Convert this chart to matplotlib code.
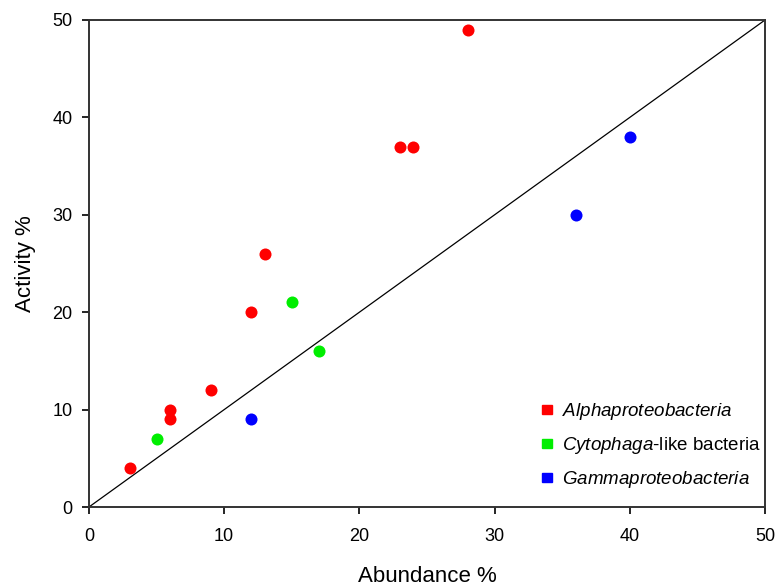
import matplotlib
matplotlib.use("Agg")
import matplotlib.pyplot as plt
from matplotlib.patches import Patch

plt.rcParams['font.family'] = ['Liberation Sans', 'DejaVu Sans']
plt.rcParams['mathtext.fontset'] = 'custom'
plt.rcParams['mathtext.it'] = 'Liberation Sans:italic'
plt.rcParams['mathtext.rm'] = 'Liberation Sans'

# data
alpha_x = [3, 6, 6, 9, 12, 13, 23, 24, 28]
alpha_y = [4, 10, 9, 12, 20, 26, 37, 37, 49]
cyto_x = [5, 15, 17]
cyto_y = [7, 21, 16]
gamma_x = [12, 36, 40]
gamma_y = [9, 30, 38]
ticks = [0, 10, 20, 30, 40, 50]

fig = plt.figure(figsize=(7.77, 5.86), dpi=100)
ax = fig.add_axes([0.1145, 0.1348, 0.8701, 0.8311])

ax.plot([0, 50], [0, 50], color='black', lw=0.9, zorder=1)
ax.scatter(alpha_x, alpha_y, s=75, color='#ff0000', zorder=3, linewidths=0)
ax.scatter(cyto_x, cyto_y, s=75, color='#00ee00', zorder=3, linewidths=0)
ax.scatter(gamma_x, gamma_y, s=75, color='#0000ff', zorder=3, linewidths=0)

ax.set_xlim(0, 50)
ax.set_ylim(0, 50)
ax.set_xticks(ticks)
ax.set_yticks(ticks)
ax.tick_params(direction='out', length=5, width=1.2, labelsize=13)
ax.tick_params(axis='x', pad=10)
ax.tick_params(axis='y', pad=7)
for sp in ax.spines.values():
    sp.set_linewidth(1.4)
    sp.set_color('#333333')

ax.set_xlabel('Abundance %', fontsize=16, labelpad=15)
ax.set_ylabel('Activity %', fontsize=16, labelpad=12)

handles = [
    Patch(color='#ff0000'),
    Patch(color='#00ee00'),
    Patch(color='#0000ff'),
]
labels = [r'$\it{Alphaproteobacteria}$',
          r'$\it{Cytophaga}$-like bacteria',
          r'$\it{Gammaproteobacteria}$']
ax.legend(handles, labels, loc='lower right', bbox_to_anchor=(1.01, 0.012),
          frameon=False, fontsize=13.5, handlelength=0.55, handleheight=0.35,
          handletextpad=0.5, labelspacing=0.68, borderaxespad=0.2)

fig.savefig('out.png', dpi=100)
